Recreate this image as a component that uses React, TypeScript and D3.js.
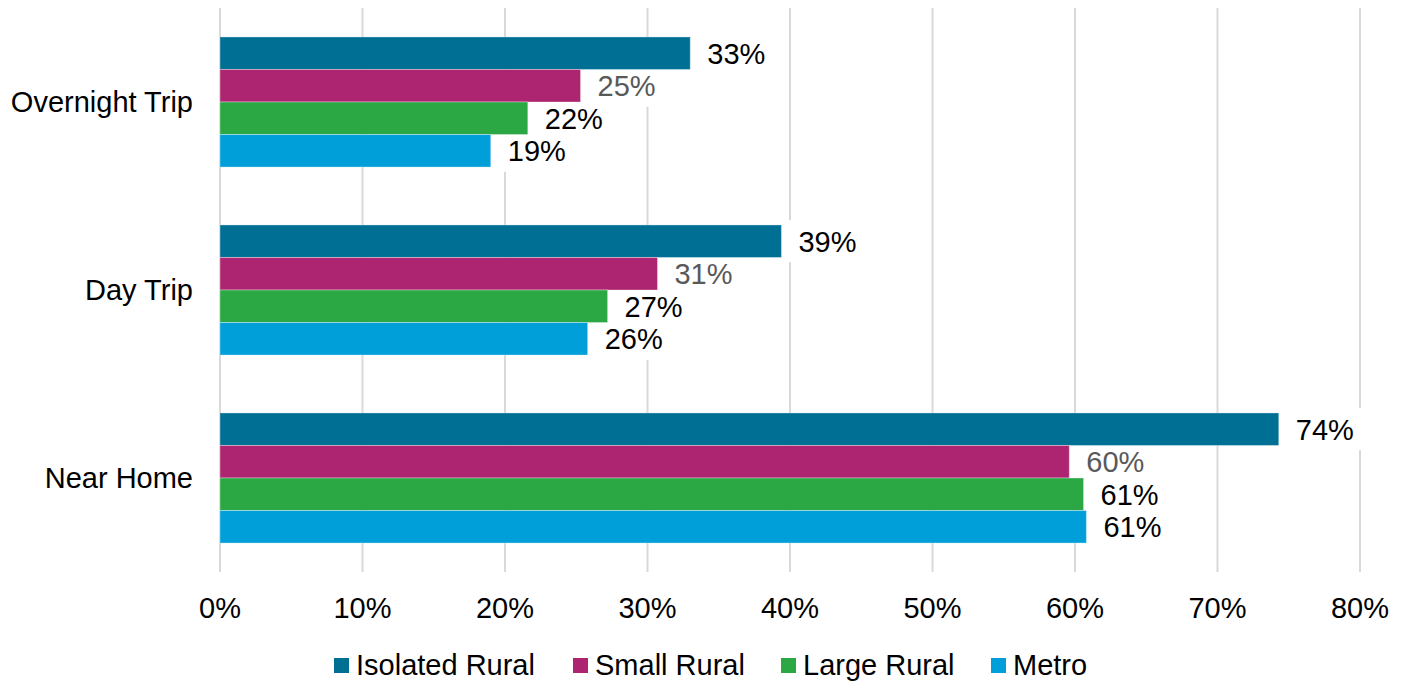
import { useEffect } from 'react';
import * as d3 from 'd3';

const categories = ['Overnight Trip', 'Day Trip', 'Near Home'];
const seriesNames = ['Isolated Rural', 'Small Rural', 'Large Rural', 'Metro'];
const isolatedRural = [33.0, 39.4, 74.3];
const smallRural = [25.3, 30.7, 59.6];
const largeRural = [21.6, 27.2, 60.6];
const metro = [19.0, 25.8, 60.8];
const xTicks = [0, 10, 20, 30, 40, 50, 60, 70, 80];

const colors = ['#006F94', '#AD2470', '#2BA744', '#009FD9'];
const labelColors = ['#000', '#595959', '#000', '#000'];

const W = 1408;
const H = 684;
const margin = { top: 8, right: 48, bottom: 112, left: 220 };
const font = '"Liberation Sans", Arial, sans-serif';
const fs = 29;

const App = () => {
	useEffect(() => {
		document.body.style.margin = '0';
	}, []);

	const values = [isolatedRural, smallRural, largeRural, metro];

	const x = d3.scaleLinear().domain([0, 80]).range([margin.left, 1360]);
	const y0 = d3.scaleBand().domain(categories).range([margin.top, H - margin.bottom]).padding(0);
	const y1 = d3
		.scaleBand()
		.domain(seriesNames)
		.range([0, y0.bandwidth()])
		.paddingInner(0)
		.paddingOuter(0.89);

	// label box size (2 digits + % )
	const textW = 58;

	const bars = [];
	categories.forEach((cat, ci) => {
		seriesNames.forEach((s, si) => {
			const v = values[si][ci];
			bars.push({ cat, s, si, v, y: y0(cat) + y1(s), h: y1.bandwidth() });
		});
	});

	const legendX = [334, 573, 781, 991];

	return (
		<svg width={W} height={H} style={{ display: 'block', fontFamily: font }}>
			<rect width={W} height={H} fill="#fff" />
			{/* gridlines */}
			{xTicks.map((t) => (
				<line
					key={t}
					x1={x(t)}
					x2={x(t)}
					y1={margin.top}
					y2={H - margin.bottom}
					stroke="#D9D9D9"
					strokeWidth={2}
				/>
			))}
			{/* label backgrounds */}
			{bars.map((b, i) => (
				<rect
					key={'bg' + i}
					x={x(b.v) + 4}
					y={b.y + b.h / 2 - 21}
					width={textW + 24}
					height={42}
					fill="#fff"
				/>
			))}
			{/* bars */}
			{bars.map((b, i) => (
				<rect
					key={'bar' + i}
					x={x(0)}
					y={b.y}
					width={x(b.v) - x(0)}
					height={b.h}
					fill={colors[b.si]}
					stroke="#fff"
					strokeOpacity={0.35}
					strokeWidth={1}
				/>
			))}
			{/* labels */}
			{bars.map((b, i) => (
				<text
					key={'lb' + i}
					x={x(b.v) + 17}
					y={b.y + b.h / 2}
					dy="0.36em"
					fontSize={fs}
					fill={labelColors[b.si]}
				>
					{Math.round(b.v) + '%'}
				</text>
			))}
			{/* category labels */}
			{categories.map((c) => (
				<text
					key={c}
					x={193}
					y={y0(c) + y0.bandwidth() / 2}
					dy="0.36em"
					textAnchor="end"
					fontSize={fs}
					fill="#000"
				>
					{c}
				</text>
			))}
			{/* x tick labels */}
			{xTicks.map((t) => (
				<text key={'t' + t} x={x(t)} y={608} dy="0.36em" textAnchor="middle" fontSize={fs} fill="#000">
					{t + '%'}
				</text>
			))}
			{/* legend */}
			{seriesNames.map((s, i) => (
				<g key={s}>
					<rect x={legendX[i]} y={658} width={15} height={15} fill={colors[i]} />
					<text x={legendX[i] + 22} y={665} dy="0.36em" fontSize={fs} fill="#000">
						{s}
					</text>
				</g>
			))}
		</svg>
	);
};

export default App;
